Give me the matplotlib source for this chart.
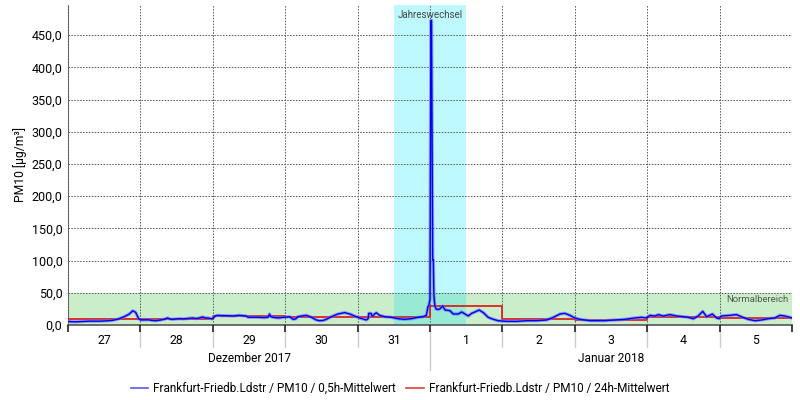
import matplotlib
matplotlib.use('Agg')
from matplotlib import pyplot as plt
from matplotlib import transforms
from matplotlib.patches import Rectangle
from matplotlib.ticker import FuncFormatter

plt.rcParams['font.family'] = ['Roboto', 'DejaVu Sans']

# hours since 27.12.2017 00:00 and PM10 0,5h values
half_hour_t = [0, 1.5, 3, 5, 7, 9, 11, 13, 14.5, 16.5, 18.7, 19.5, 20.3, 21, 21.4, 22, 22.5, 23, 23.4, 24,
               24.7, 26, 27, 28, 29.2, 30.8, 32, 33, 34, 34.7, 36.9, 38, 39.1, 41.3, 42.5, 43.5, 44.6, 45.5, 46.3, 47.7,
               48, 48.8, 49.6, 51, 52.4, 54.6, 56.8, 59, 59.7, 61, 63, 65, 66.3, 66.8, 67.2, 67.9, 69.6, 71.8,
               73.5, 74.6, 75.5, 76.2, 77.5, 79, 80.7, 82.3, 83.4, 84.5, 85.6, 87.3, 89.5, 91.7, 93.4, 95,
               96.7, 98, 98.9, 99.5, 99.7, 100.5, 100.8, 101.1, 101.6, 102.2, 103.3, 105, 107.2, 109.4, 111.6, 113.8,
               116, 117.7, 118.8, 119.3, 119.6,
               120, 120.3, 120.5, 120.9, 121.1, 121.3, 121.6, 122, 122.6, 123.3, 124.2, 125, 126.6, 127.7, 129.4,
               130.5, 131.6, 132.7, 133.8, 134.9, 136.3, 137.7, 139.3, 141, 142.6,
               145.4, 148.7, 152, 155.4, 158.7, 160.9, 163.1, 164.7, 166.4, 168, 169.7, 173, 176.3, 178,
               181.3, 184.6, 187.9, 190.1, 191.8, 192.9, 194.6, 195.7, 197.3, 199.5, 201.8, 204, 205.6, 207.3,
               208.9, 210.4, 211.7, 213.6, 215, 215.8, 216.6, 219.4, 221.6, 223.2, 225.5, 227.7, 229.9, 232.1,
               234.3, 236, 237.6, 239.3, 240]
half_hour_pm10 = [5.5, 5, 5, 5.5, 6, 6, 6, 6.5, 7, 9, 13, 15, 17, 20, 22, 21, 19, 14, 10, 8,
                  7.8, 8, 7.8, 7, 6.7, 7.8, 9, 10.9, 9, 8.8, 9.8, 9.5, 9.8, 10.9, 10, 10.9, 12.5, 11, 10.9, 9.8,
                  10, 14, 15, 14.5, 14.5, 14, 15, 14, 12, 12, 12, 11.5, 12, 17, 13, 12, 11, 12,
                  12.9, 8.8, 9.5, 12.9, 14, 15, 12, 7.8, 6.7, 7, 8.8, 12.9, 17.1, 19.2, 17.1, 14,
                  10.9, 9, 7.8, 10, 18, 18, 14, 14, 17, 19, 15, 12.9, 11.9, 9.8, 8.8, 9.8,
                  11.9, 12.9, 15, 28, 30,
                  40, 473, 473, 101, 101, 46, 30, 25, 24, 25, 29.5, 23.3, 22.3, 17.1, 17.1,
                  20.2, 17.1, 14, 18.1, 20.2, 23.3, 19.1, 11.9, 8.8, 6.7,
                  5.7, 5.7, 6.7, 6.7, 7.8, 11.9, 17.1, 18.1, 15, 10.9, 8.8, 6.7, 6.7, 6.7,
                  7.8, 8.8, 10.9, 11.9, 10.9, 15, 14, 16.1, 14, 16.1, 14, 12.9, 11.9, 9.8,
                  14, 21.2, 12.9, 17, 10.9, 9.8, 14, 15, 16.1, 12.9, 8.8, 6.7, 7.8, 9.8,
                  10.9, 15, 14, 11.9, 11]

# 24h means, one per day (27.12. - 5.1.)
day_start_t = [0, 24, 48, 72, 96, 120, 144, 168, 192, 216, 240]
day_pm10 = [9, 10, 13.5, 13, 13, 29, 9, 8, 12, 11]

day_labels = ['27', '28', '29', '30', '31', '1', '2', '3', '4', '5']
month_labels = ['Dezember 2017', 'Januar 2018']
month_centers = [60, 180]

# normal range and new year window
normal_max = 50
new_year = (108, 132)

fig = plt.figure(figsize=(8, 4), dpi=100)
ax = fig.add_axes([0.085, 0.1875, 0.905, 0.8])

# background bands (overlap gets its own mixed colour)
ax.axhspan(0, normal_max, color='#c9eec9', zorder=0, lw=0)
ax.axvspan(new_year[0], new_year[1], color='#bdf9fc', zorder=0, lw=0)
ax.add_patch(Rectangle((new_year[0], 0), new_year[1] - new_year[0], normal_max,
                       color='#98ebd2', lw=0, zorder=0.2))
ax.text(120, 490, 'Jahreswechsel', ha='center', va='top', fontsize=7, color='#444444')
ax.text(239, 46, 'Normalbereich', ha='right', va='top', fontsize=6.8, color='#555555')

# lines
ax.step(day_start_t, day_pm10 + [day_pm10[-1]], where='post', color='#dd1111', lw=1.2, zorder=3)
ax.plot(half_hour_t, half_hour_pm10, color='#6a6aff', lw=2.4, alpha=0.6, zorder=4)
ax.plot(half_hour_t, half_hour_pm10, color='#0000ee', lw=1.0, zorder=5)

ax.set_xlim(0, 240)
ax.set_ylim(0, 497)
ax.set_yticks(range(0, 451, 50))
ax.yaxis.set_major_formatter(FuncFormatter(lambda v, p: f'{v:.1f}'.replace('.', ',')))
ax.set_xticks(day_start_t)
ax.set_xticklabels([])
ax.tick_params(axis='x', length=5, color='#222222', width=1.2)
ax.tick_params(axis='y', length=0, labelsize=9, pad=4)
ax.grid(True, ls=(0, (1.5, 1.5)), color='#555555', lw=0.7, zorder=1)
ax.set_axisbelow(False)
for g in ax.get_xgridlines() + ax.get_ygridlines():
    g.set_zorder(1)

ax.spines['top'].set_visible(False)
ax.spines['right'].set_visible(False)
ax.spines['left'].set_color('#777777')
ax.spines['bottom'].set_color('#555555')
ax.spines['bottom'].set_linewidth(1.2)

ax.set_ylabel('PM10 [µg/m³]', fontsize=8.7, labelpad=3)

# day and month labels under the axis
trans = transforms.blended_transform_factory(ax.transData, ax.transAxes)
for i, lab in enumerate(day_labels):
    ax.text(day_start_t[i] + 12, -0.048, lab, transform=trans, ha='center', va='center', fontsize=8.8)
for t in day_start_t[1:-1]:
    bottom = -0.14 if t == 120 else -0.07
    ax.plot([t, t], [-0.015, bottom], transform=trans, color='#cccccc', lw=1, clip_on=False)
for c, lab in zip(month_centers, month_labels):
    ax.text(c, -0.105, lab, transform=trans, ha='center', va='center', fontsize=8.6)

# legend
h1, = ax.plot([], [], color='#5555ff', lw=1.2)
h2, = ax.plot([], [], color='#e04040', lw=1.2)
fig.legend([h1, h2], ['Frankfurt-Friedb.Ldstr / PM10 / 0,5h-Mittelwert',
                      'Frankfurt-Friedb.Ldstr / PM10 / 24h-Mittelwert'],
           loc='center', bbox_to_anchor=(0.5, 0.029), ncol=2, frameon=False, fontsize=8.5,
           handlelength=1.5, handletextpad=0.4, columnspacing=0.9)

fig.savefig('out.png', dpi=100)
